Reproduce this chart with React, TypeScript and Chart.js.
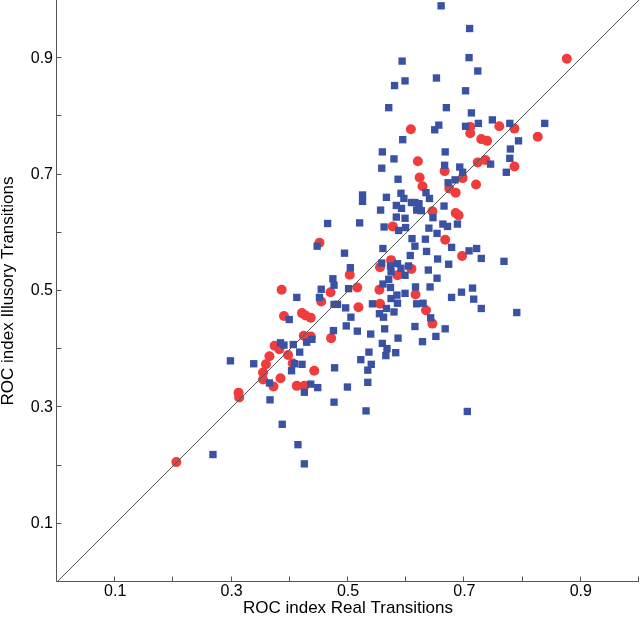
import React, { useEffect, useRef } from 'react';
import { Chart, registerables } from 'chart.js';

Chart.register(...registerables);

// Blue squares
const blueX = [
  0.447, 0.494, 0.504, 0.474, 0.476, 0.454, 0.501, 0.412, 0.451, 0.476,
  0.482, 0.496, 0.542, 0.505, 0.399, 0.497, 0.516, 0.475, 0.539, 0.384,
  0.390, 0.406, 0.429, 0.438, 0.417, 0.536, 0.298, 0.338, 0.408, 0.421,
  0.403, 0.477, 0.522, 0.540, 0.534, 0.365, 0.436, 0.448, 0.425, 0.499,
  0.534, 0.366, 0.476, 0.531, 0.387, 0.414, 0.268, 0.425,
  0.525, 0.525, 0.520, 0.465,
  0.610, 0.633, 0.560, 0.615, 0.678, 0.708, 0.721, 0.729, 0.768, 0.635,
  0.607, 0.654, 0.673, 0.558, 0.573, 0.585, 0.591, 0.604, 0.574, 0.598,
  0.638, 0.653, 0.570, 0.560, 0.573, 0.616, 0.641, 0.714, 0.695, 0.598,
  0.584, 0.574, 0.678, 0.716, 0.585, 0.618, 0.629, 0.729, 0.790, 0.566,
  0.554, 0.561, 0.579, 0.642, 0.563, 0.615, 0.667, 0.586, 0.651, 0.628,
  0.559, 0.567, 0.582, 0.565, 0.705,
  0.660, 0.709, 0.593, 0.708, 0.723, 0.652, 0.598, 0.580, 0.702, 0.570,
  0.669, 0.712, 0.656, 0.649, 0.702, 0.724, 0.748, 0.778, 0.838, 0.594,
  0.793, 0.779, 0.559, 0.667, 0.579, 0.778, 0.558, 0.666, 0.692, 0.745,
  0.772, 0.586, 0.672, 0.684, 0.697, 0.566, 0.591, 0.596, 0.634, 0.640,
  0.609, 0.615, 0.622, 0.583, 0.556, 0.592, 0.618, 0.626, 0.665, 0.583,
  0.598, 0.646, 0.562, 0.587, 0.599, 0.639, 0.663, 0.671, 0.688, 0.653,
];
const blueY = [
  0.577, 0.565, 0.540, 0.521, 0.510, 0.503, 0.504, 0.489, 0.489, 0.477,
  0.477, 0.471, 0.478, 0.455, 0.451, 0.440, 0.431, 0.432, 0.426, 0.411,
  0.407, 0.408, 0.412, 0.417, 0.395, 0.395, 0.380, 0.375, 0.375, 0.374,
  0.363, 0.368, 0.382, 0.374, 0.364, 0.342, 0.340, 0.334, 0.326, 0.335,
  0.343, 0.313, 0.309, 0.294, 0.271, 0.236, 0.219, 0.203,
  0.665, 0.654, 0.617, 0.616,
  0.590, 0.589, 0.573, 0.577, 0.575, 0.569, 0.573, 0.556, 0.551, 0.568,
  0.561, 0.555, 0.546, 0.548, 0.543, 0.547, 0.539, 0.543, 0.533, 0.527,
  0.536, 0.522, 0.520, 0.512, 0.506, 0.507, 0.507, 0.505, 0.498, 0.496,
  0.493, 0.487, 0.489, 0.486, 0.479, 0.478, 0.479, 0.470, 0.463, 0.470,
  0.461, 0.455, 0.464, 0.454, 0.435, 0.439, 0.435, 0.419, 0.422, 0.413,
  0.410, 0.401, 0.394, 0.389, 0.293,
  0.990, 0.951, 0.895, 0.901, 0.878, 0.866, 0.861, 0.853, 0.844, 0.815,
  0.815, 0.806, 0.785, 0.777, 0.783, 0.788, 0.794, 0.788, 0.788, 0.760,
  0.758, 0.744, 0.739, 0.739, 0.727, 0.728, 0.711, 0.716, 0.713, 0.718,
  0.704, 0.692, 0.686, 0.691, 0.704, 0.661, 0.668, 0.659, 0.669, 0.659,
  0.652, 0.652, 0.650, 0.647, 0.639, 0.642, 0.639, 0.638, 0.646, 0.627,
  0.625, 0.626, 0.610, 0.604, 0.609, 0.608, 0.615, 0.611, 0.615, 0.599,
];

// Red circles
const redX = [
  0.451, 0.386, 0.503, 0.516, 0.470, 0.454, 0.518, 0.390, 0.421, 0.427,
  0.436, 0.424, 0.436, 0.471, 0.374, 0.382, 0.397, 0.365, 0.359, 0.354,
  0.354, 0.384, 0.372, 0.442, 0.412, 0.425, 0.405, 0.312, 0.313, 0.205,
  0.667, 0.696, 0.574, 0.555, 0.609, 0.585, 0.554, 0.616, 0.555, 0.634,
  0.645,
  0.876, 0.608, 0.710, 0.710, 0.760, 0.786, 0.826, 0.729, 0.739, 0.620,
  0.723, 0.736, 0.786, 0.666, 0.697, 0.623, 0.628, 0.720, 0.674, 0.685,
  0.645, 0.685, 0.690, 0.577,
];
const redY = [
  0.583, 0.502, 0.528, 0.506, 0.498, 0.482, 0.472, 0.457, 0.462, 0.458,
  0.454, 0.423, 0.422, 0.419, 0.406, 0.400, 0.390, 0.388, 0.374, 0.360,
  0.348, 0.350, 0.336, 0.363, 0.337, 0.337, 0.376, 0.325, 0.317, 0.206,
  0.588, 0.560, 0.553, 0.541, 0.538, 0.527, 0.502, 0.494, 0.478, 0.467,
  0.444,
  0.899, 0.778, 0.782, 0.771, 0.783, 0.779, 0.765, 0.761, 0.758, 0.723,
  0.721, 0.725, 0.714, 0.706, 0.694, 0.695, 0.680, 0.683, 0.676, 0.669,
  0.637, 0.634, 0.630, 0.611,
];

// Identity line
const diagX = [0, 1];
const diagY = [0, 1];

const axisMin = 0;
const axisMax = 1;
const tickStep = 0.1;
const labeledTicks = ['0.1', '0.3', '0.5', '0.7', '0.9'];
const xTitle = 'ROC index Real Transitions';
const yTitle = 'ROC index Illusory Transitions';

const FONT = '"Liberation Sans", Arial, Helvetica, sans-serif';
const AXIS_COLOR = '#555555';
const BLUE = 'rgb(58, 82, 163)';
const RED = 'rgb(240, 60, 60)';

const pts = (xs: number[], ys: number[]) => xs.map((x, i) => ({ x, y: ys[i] }));

const tickLabel = (v: number | string) => {
  const s = Number(v).toFixed(1);
  return labeledTicks.includes(s) ? s : '';
};

const inwardAxes = {
  id: 'inwardAxes',
  afterDraw(chart: any) {
    const { ctx, chartArea, scales } = chart;
    const xs = scales.x;
    const ys = scales.y;
    const L = Math.round(chartArea.left) - 0.5;
    const B = Math.round(chartArea.bottom) - 0.5;
    ctx.save();
    ctx.strokeStyle = AXIS_COLOR;
    ctx.lineWidth = 1;
    ctx.beginPath();
    ctx.moveTo(L, chartArea.top);
    ctx.lineTo(L, B);
    ctx.lineTo(chartArea.right, B);
    xs.ticks.forEach((t: any) => {
      const p = Math.round(xs.getPixelForValue(t.value)) - 0.5;
      ctx.moveTo(p, B);
      ctx.lineTo(p, B - 5);
    });
    ys.ticks.forEach((t: any) => {
      const p = Math.round(ys.getPixelForValue(t.value)) - 0.5;
      ctx.moveTo(L, p);
      ctx.lineTo(L + 5, p);
    });
    ctx.stroke();
    ctx.restore();
  },
};

export default function App() {
  const ref = useRef<HTMLCanvasElement | null>(null);

  useEffect(() => {
    if (!ref.current) return;
    const chart = new Chart(ref.current, {
      type: 'scatter',
      data: {
        datasets: [
          {
            label: 'diagonal',
            data: pts(diagX, diagY),
            showLine: true,
            borderColor: '#555555',
            borderWidth: 1,
            pointRadius: 0,
            fill: false,
            order: 0,
          },
          {
            label: 'blue',
            data: pts(blueX, blueY),
            pointStyle: 'rect',
            pointRadius: 5.2,
            backgroundColor: BLUE,
            borderWidth: 0,
            order: 1,
          },
          {
            label: 'red',
            data: pts(redX, redY),
            pointStyle: 'circle',
            pointRadius: 5,
            backgroundColor: RED,
            borderWidth: 0,
            order: 2,
          },
        ],
      },
      options: {
        responsive: false,
        animation: false,
        devicePixelRatio: 1,
        layout: { autoPadding: false, padding: { left: 0, top: 0, right: 1, bottom: 0 } },
        plugins: {
          legend: { display: false },
          tooltip: { enabled: false },
        },
        scales: {
          x: {
            type: 'linear',
            min: axisMin,
            max: axisMax,
            grid: { display: false, drawTicks: false },
            border: { display: false },
            ticks: {
              stepSize: tickStep,
              autoSkip: false,
              maxRotation: 0,
              padding: 0,
              color: '#000',
              font: { family: FONT, size: 16 },
              callback: tickLabel,
            },
            title: {
              display: true,
              text: xTitle,
              color: '#000',
              padding: 0,
              font: { family: FONT, size: 17, lineHeight: 1 },
            },
            afterFit(s: any) {
              s.height = 35;
              s.paddingLeft = 0;
              s.paddingRight = 0;
            },
          },
          y: {
            type: 'linear',
            min: axisMin,
            max: axisMax,
            grid: { display: false, drawTicks: false },
            border: { display: false },
            ticks: {
              stepSize: tickStep,
              autoSkip: false,
              padding: 4,
              color: '#000',
              font: { family: FONT, size: 16 },
              callback: tickLabel,
            },
            title: {
              display: true,
              text: yTitle,
              color: '#000',
              padding: 0,
              font: { family: FONT, size: 17, lineHeight: 1 },
            },
            afterFit(s: any) {
              s.width = 57;
              s.paddingTop = 0;
              s.paddingBottom = 0;
            },
          },
        },
      },
      plugins: [inwardAxes],
    } as any);
    return () => chart.destroy();
  }, []);

  return (
    <div style={{ position: 'absolute', left: 0, top: 0, width: 640, height: 617, background: '#fff' }}>
      <canvas ref={ref} width={640} height={617} style={{ display: 'block' }} />
    </div>
  );
}
